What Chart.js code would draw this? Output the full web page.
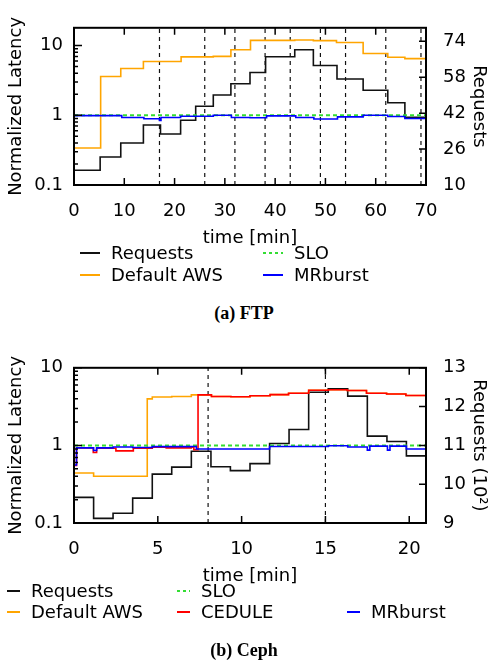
<!DOCTYPE html>
<html>
<head>
<meta charset="utf-8">
<script src="https://cdn.jsdelivr.net/npm/chart.js@4.4.1/dist/chart.umd.min.js"></script>
<style>
  body { margin: 0; background: #fff; }
  #page { position: relative; width: 488px; height: 662px; overflow: hidden; font-family: 'DejaVu Sans'; color: #000; }
  canvas { position: absolute; left: 0; }
  .lg { position: absolute; font-size: 18px; line-height: 22px; white-space: nowrap; }
  .sw { position: absolute; height: 2px; }
  .dash { background: repeating-linear-gradient(to right, #33dd33 0 3px, transparent 3px 6px); }
  .cap { position: absolute; left: 0; width: 488px; text-align: center; font: bold 18px 'Liberation Serif'; line-height: 22px; }
</style>
</head>
<body>
<div id="page">
  <canvas id="ftp" width="488" height="247" style="top:0px"></canvas>

  <div class="sw" style="left:80px;top:252px;width:20px;background:#111"></div>
  <div class="lg" style="left:111px;top:242px">Requests</div>
  <div class="sw dash" style="left:263px;top:252px;width:20px"></div>
  <div class="lg" style="left:294px;top:242px">SLO</div>
  <div class="sw" style="left:80px;top:274px;width:20px;background:#ffa500"></div>
  <div class="lg" style="left:111px;top:264px">Default AWS</div>
  <div class="sw" style="left:263px;top:274px;width:20px;background:#0000ff"></div>
  <div class="lg" style="left:294px;top:264px">MRburst</div>
  <div class="cap" style="top:302px">(a) FTP</div>

  <canvas id="ceph" width="488" height="245" style="top:340px"></canvas>

  <div class="sw" style="left:7px;top:590px;width:13px;background:#111"></div>
  <div class="lg" style="left:31px;top:580px">Requests</div>
  <div class="sw dash" style="left:177px;top:590px;width:13px"></div>
  <div class="lg" style="left:201px;top:580px">SLO</div>
  <div class="sw" style="left:7px;top:611px;width:13px;background:#ffa500"></div>
  <div class="lg" style="left:31px;top:601px">Default AWS</div>
  <div class="sw" style="left:177px;top:611px;width:13px;background:#ff0000"></div>
  <div class="lg" style="left:201px;top:601px">CEDULE</div>
  <div class="sw" style="left:347px;top:611px;width:13px;background:#0000ff"></div>
  <div class="lg" style="left:371px;top:601px">MRburst</div>
  <div class="cap" style="top:639px">(b) Ceph</div>
</div>

<script>
// ---------- (a) FTP ----------
var ftpTimeRange = [0, 70];
var ftpTimeTicks = [0, 10, 20, 30, 40, 50, 60, 70];
var ftpLatRange = [0.1, 18];
var ftpLatTicks = [0.1, 1, 10];
var ftpReqRange = [10, 80];
var ftpReqTicks = [10, 26, 42, 58, 74];

var ftpReqTime = [0, 5.2, 9.3, 13.8, 17.2, 21.2, 24.2, 27.7, 31.2, 35, 38.1, 43.9, 47.6, 52.3, 57.5, 62.4, 65.8, 70];
var ftpReq     = [16.6, 22.5, 28.7, 36.7, 32.7, 38.8, 45.1, 50.1, 55.1, 60.1, 67.1, 70.2, 63.2, 57.2, 52.2, 46.6, 40.1, 40.1];

var ftpAwsTime = [0, 5.3, 9.3, 13.8, 21.3, 27.7, 31.2, 35.1, 43.9, 47.6, 52.2, 57.5, 62.4, 65.8, 70];
var ftpAws     = [0.34, 3.6, 4.7, 5.9, 6.9, 7.0, 8.7, 11.9, 12.0, 11.8, 11.1, 7.7, 6.8, 6.5, 6.5];

var ftpMrTime = [0, 9.5, 13.9, 17.0, 17.3, 21.2, 27.7, 31.3, 35, 38.3, 44.1, 47.7, 52.4, 57.5, 62.4, 65.8, 70];
var ftpMr     = [0.99, 0.93, 0.89, 0.84, 0.93, 0.97, 1.0, 0.93, 0.92, 0.98, 0.93, 0.885, 0.95, 1.0, 0.96, 0.9, 0.9];

var ftpSloTime = [0, 70];
var ftpSlo     = [1, 1];

var ftpBursts = [17, 26, 32, 38, 43, 49, 54, 62, 69];

// ---------- (b) Ceph ----------
var cephTimeRange = [0, 21];
var cephTimeTicks = [0, 5, 10, 15, 20];
var cephLatRange = [0.1, 10];
var cephLatTicks = [0.1, 1, 10];
var cephReqRange = [9, 13];
var cephReqTicks = [9, 10, 11, 12, 13];

var cephReqTime = [0, 1.17, 2.33, 3.5, 4.67, 5.83, 7.0, 8.17, 9.33, 10.5, 11.67, 12.83, 14.0, 15.17, 16.33, 17.5, 18.67, 19.83, 21];
var cephReq     = [9.66, 9.12, 9.25, 9.64, 10.26, 10.44, 10.85, 10.45, 10.35, 10.53, 11.05, 11.41, 12.37, 12.46, 12.27, 11.24, 11.1, 10.73, 10.73];

var cephAwsTime = [0, 1.17, 4.37, 4.67, 5.83, 7.0, 7.4, 8.2, 9.36, 10.5, 11.7, 12.8, 14.0, 15.17, 16.3, 17.45, 18.65, 19.8, 21];
var cephAws     = [0.44, 0.40, 3.98, 4.2, 4.27, 4.48, 4.48, 4.27, 4.23, 4.36, 4.51, 4.69, 5.13, 5.22, 5.09, 4.69, 4.6, 4.39, 4.39];

var cephCedTime = [0, 0.15, 1.15, 1.35, 2.5, 3.54, 4.67, 5.5, 7.0, 7.15, 7.4, 8.2, 9.36, 10.5, 11.7, 12.8, 14.0, 15.17, 16.3, 17.45, 18.65, 19.8, 21];
var cephCed     = [0.55, 0.93, 0.81, 0.92, 0.85, 0.92, 0.95, 0.93, 0.95, 0.88, 4.48, 4.27, 4.23, 4.36, 4.51, 4.69, 5.13, 5.22, 5.09, 4.69, 4.6, 4.39, 4.39];

var cephMrTime = [0, 0.15, 1.17, 1.35, 2.33, 3.5, 4.67, 7.0, 7.3, 11.67, 15.17, 16.33, 17.5, 17.65, 18.7, 18.85, 19.83, 21];
var cephMr     = [0.56, 0.93, 0.86, 0.93, 0.955, 0.94, 0.965, 0.97, 0.9, 0.97, 0.99, 0.955, 0.87, 0.98, 0.87, 0.98, 0.9, 0.9];

var cephSloTime = [0, 21];
var cephSlo     = [1, 1];

var cephBursts = [8, 15];

Chart.defaults.font.family = "'DejaVu Sans'";
Chart.defaults.font.size = 18;
Chart.defaults.color = '#000';

function pts(xs, ys) {
  var out = [];
  for (var i = 0; i < xs.length; i++) out.push({ x: xs[i], y: ys[i] });
  return out;
}

function step_set(label, color, xs, ys, axis, order, dash, width) {
  return {
    label: label, data: pts(xs, ys), yAxisID: axis,
    borderColor: color, borderWidth: width || 1.6, borderDash: dash || [],
    stepped: true, pointRadius: 0, fill: false, order: order
  };
}

// dashed vertical markers, one segment per time, broken by null
function burst_set(times, range) {
  var data = [];
  for (var i = 0; i < times.length; i++) {
    data.push({ x: times[i], y: range[0] });
    data.push({ x: times[i], y: range[1] });
    data.push({ x: times[i], y: null });
  }
  return {
    label: 'bursts', data: data, yAxisID: 'y', borderColor: '#111',
    borderWidth: 1.2, borderDash: [4, 4], pointRadius: 0, order: 20
  };
}

function as_ticks(list) {
  return function (scale) {
    scale.ticks = list.map(function (v) { return { value: v }; });
  };
}

// box around plot + inward tick marks (log minors on the left)
var frameTicks = {
  id: 'frameTicks',
  afterDraw: function (chart) {
    var ctx = chart.ctx, a = chart.chartArea;
    var sx = chart.scales.x, sy = chart.scales.y, sy2 = chart.scales.y2;
    ctx.save();
    ctx.strokeStyle = '#000';
    ctx.lineWidth = 1.5;
    ctx.beginPath();
    sx.ticks.forEach(function (t) {
      var px = sx.getPixelForValue(t.value);
      ctx.moveTo(px, a.bottom); ctx.lineTo(px, a.bottom - 7);
      ctx.moveTo(px, a.top); ctx.lineTo(px, a.top + 7);
    });
    sy.ticks.forEach(function (t) {
      for (var k = 1; k < 10; k++) {
        var v = t.value * k;
        if (v > sy.max * 1.0001) break;
        var py = sy.getPixelForValue(v);
        ctx.moveTo(a.left, py); ctx.lineTo(a.left + (k == 1 ? 8 : 4), py);
      }
    });
    sy2.ticks.forEach(function (t) {
      var py = sy2.getPixelForValue(t.value);
      ctx.moveTo(a.right, py); ctx.lineTo(a.right - 7, py);
    });
    ctx.stroke();
    ctx.lineWidth = 2;
    ctx.strokeRect(a.left, a.top, a.right - a.left, a.bottom - a.top);
    ctx.restore();
  }
};

function create_chart(id, sets, o) {
  var ctx = document.getElementById(id);
  return new Chart(ctx, {
    type: 'line',
    data: { datasets: sets },
    options: {
      responsive: false,
      animation: false,
      devicePixelRatio: 1,
      layout: { padding: { top: o.top, left: 0, right: 0, bottom: 0 } },
      plugins: { legend: { display: false }, tooltip: { enabled: false } },
      scales: {
        x: {
          type: 'linear', position: 'bottom', min: o.xRange[0], max: o.xRange[1],
          afterBuildTicks: as_ticks(o.xTicks),
          afterFit: function (s) { s.height = 62; },
          grid: { display: false, drawTicks: false }, border: { display: false },
          ticks: { padding: 16, maxRotation: 0, autoSkip: false },
          title: { display: true, text: 'time [min]', padding: 0, font: { size: 18, lineHeight: 1 } }
        },
        y: {
          type: 'logarithmic', position: 'left', min: o.yRange[0], max: o.yRange[1],
          afterBuildTicks: as_ticks(o.yTicks),
          afterFit: function (s) { s.width = 74; },
          grid: { display: false, drawTicks: false }, border: { display: false },
          ticks: { padding: 11, autoSkip: false, callback: function (v) { return String(v); } },
          title: { display: true, text: 'Normalized Latency', padding: { top: 7.5 }, font: { size: 18, lineHeight: 1 } }
        },
        y2: {
          type: 'linear', position: 'right', min: o.rRange[0], max: o.rRange[1],
          afterBuildTicks: as_ticks(o.rTicks),
          afterFit: function (s) { s.width = 62; },
          grid: { display: false, drawTicks: false }, border: { display: false },
          ticks: { padding: 17, autoSkip: false },
          title: { display: true, text: o.rTitle, padding: 0, font: { size: 18, lineHeight: 1 } }
        }
      }
    },
    plugins: [frameTicks]
  });
}

create_chart('ftp', [
  step_set('MRburst', '#0000ff', ftpMrTime, ftpMr, 'y', 1),
  step_set('SLO', '#33dd33', ftpSloTime, ftpSlo, 'y', 2, [4, 3], 2),
  step_set('Default AWS', '#ffa500', ftpAwsTime, ftpAws, 'y', 4),
  step_set('Requests', '#111', ftpReqTime, ftpReq, 'y2', 5),
  burst_set(ftpBursts, ftpLatRange)
], {
  top: 16, xRange: ftpTimeRange, xTicks: ftpTimeTicks,
  yRange: ftpLatRange, yTicks: ftpLatTicks,
  rRange: ftpReqRange, rTicks: ftpReqTicks, rTitle: 'Requests'
});

create_chart('ceph', [
  step_set('MRburst', '#0000ff', cephMrTime, cephMr, 'y', 1),
  step_set('SLO', '#33dd33', cephSloTime, cephSlo, 'y', 2, [4, 3], 2),
  step_set('CEDULE', '#ff0000', cephCedTime, cephCed, 'y', 3),
  step_set('Default AWS', '#ffa500', cephAwsTime, cephAws, 'y', 4),
  step_set('Requests', '#111', cephReqTime, cephReq, 'y2', 5),
  burst_set(cephBursts, cephLatRange)
], {
  top: 14, xRange: cephTimeRange, xTicks: cephTimeTicks,
  yRange: cephLatRange, yTicks: cephLatTicks,
  rRange: cephReqRange, rTicks: cephReqTicks, rTitle: 'Requests (10\u00b2)'
});
</script>
</body>
</html>
